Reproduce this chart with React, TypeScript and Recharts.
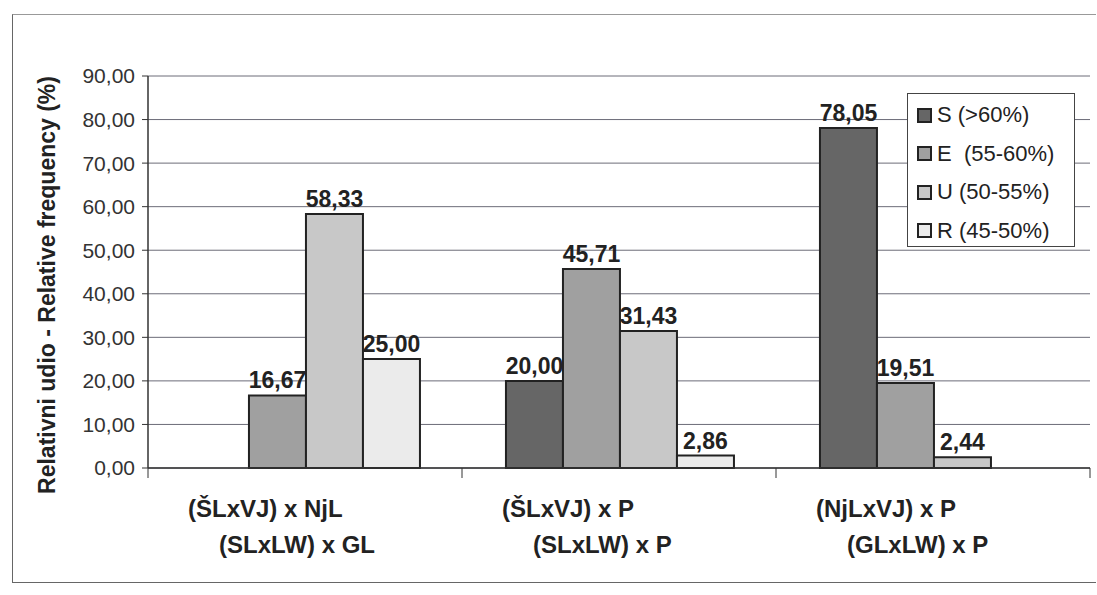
import { BarChart, Bar, XAxis, YAxis, CartesianGrid, LabelList } from "recharts";

const line1Labels = ["(ŠLxVJ) x NjL", "(ŠLxVJ) x P", "(NjLxVJ) x P"];
const line2Labels = ["(SLxLW) x GL", "(SLxLW) x P", "(GLxLW) x P"];

const sValues = [null, 20.0, 78.05];
const eValues = [16.67, 45.71, 19.51];
const uValues = [58.33, 31.43, 2.44];
const rValues = [25.0, 2.86, null];

const yTicks = [0, 10, 20, 30, 40, 50, 60, 70, 80, 90];

const seriesNames = ["S (>60%)", "E  (55-60%)", "U (50-55%)", "R (45-50%)"];
const seriesKeys = ["s", "e", "u", "r"];
const seriesColors = ["#666666", "#a0a0a0", "#c8c8c8", "#ebebeb"];

const data = line1Labels.map((l1, i) => ({
    name: l1,
    line2: line2Labels[i],
    s: sValues[i],
    e: eValues[i],
    u: uValues[i],
    r: rValues[i],
}));

const fmt = (v: number) => v.toFixed(2).replace(".", ",");

const FONT = "'Liberation Sans', Arial, sans-serif";

const CategoryTick = (props: any) => {
    const { x, y, index } = props;
    const half = 157;
    return (
        <g>
            <line x1={x - half} y1={y - 8} x2={x - half} y2={y + 2} stroke="#333" />
            {index === 2 && (
                <line x1={x + half} y1={y - 8} x2={x + half} y2={y + 2} stroke="#333" />
            )}
            <text
                x={x - 117}
                y={y + 41}
                fontFamily={FONT}
                fontWeight="bold"
                fontSize={24}
                fill="#222"
            >
                {line1Labels[index]}
            </text>
            <text
                x={x - 86}
                y={y + 77}
                fontFamily={FONT}
                fontWeight="bold"
                fontSize={24}
                fill="#222"
            >
                {line2Labels[index]}
            </text>
        </g>
    );
};

const ValueLabel = (props: any) => {
    const { x, y, width, value } = props;
    if (value === null || value === undefined) return null;
    return (
        <text
            x={x + width / 2}
            y={y - 7}
            textAnchor="middle"
            fontFamily={FONT}
            fontWeight="bold"
            fontSize={23}
            fill="#222"
        >
            {fmt(value)}
        </text>
    );
};

const YLabel = () => (
    <text
        x={47}
        y={285}
        dy={8}
        transform="rotate(-90 47 285)"
        textAnchor="middle"
        fontFamily={FONT}
        fontWeight="bold"
        fontSize={23}
        fill="#222"
    >
        Relativni udio - Relative frequency (%)
    </text>
);

const ChartLegend = () => (
    <div
        style={{
            position: "absolute",
            left: 907,
            top: 93,
            width: 168,
            height: 154,
            border: "1px solid #444",
            background: "#fff",
            fontFamily: FONT,
            fontSize: 22,
            color: "#222",
            boxSizing: "border-box",
            paddingTop: 2,
        }}
    >
        {seriesNames.map((n, i) => (
            <div
                key={n}
                style={{ display: "flex", alignItems: "center", height: 38.5, paddingLeft: 9 }}
            >
                <span
                    style={{
                        display: "inline-block",
                        width: 11,
                        height: 11,
                        border: "2px solid #222",
                        background: seriesColors[i],
                        marginRight: 5,
                    }}
                />
                <span style={{ whiteSpace: "pre" }}>{n}</span>
            </div>
        ))}
    </div>
);

export default function App() {
    return (
        <div
            style={{
                position: "absolute",
                left: 0,
                top: 0,
                width: 1097,
                height: 595,
                background: "#fff",
            }}
        >
            <div
                style={{
                    position: "absolute",
                    left: 12,
                    top: 14,
                    width: 1083,
                    height: 567,
                    borderLeft: "1px solid #666",
                    borderBottom: "1px solid #666",
                    borderTop: "1px solid #999",
                }}
            />
            <BarChart
                width={1097}
                height={595}
                data={data}
                margin={{ top: 76, right: 7, left: 0, bottom: 0 }}
                barCategoryGap="14%"
                barGap={0}
                style={{ position: "absolute", left: 0, top: 0 }}
            >
                <CartesianGrid vertical={false} stroke="#6c6c78" strokeWidth={1} />
                <XAxis
                    dataKey="name"
                    height={127}
                    tickLine={false}
                    axisLine={{ stroke: "#333", strokeWidth: 1.5 }}
                    tick={<CategoryTick />}
                    interval={0}
                />
                <YAxis
                    width={148}
                    domain={[0, 90]}
                    ticks={yTicks}
                    tickFormatter={fmt}
                    tickSize={6}
                    tickMargin={7}
                    tickLine={{ stroke: "#333" }}
                    axisLine={{ stroke: "#333", strokeWidth: 1.5 }}
                    tick={{ fontFamily: FONT, fontSize: 21, fill: "#333" }}
                    label={<YLabel />}
                />
                {seriesKeys.map((k, i) => (
                    <Bar
                        key={k}
                        dataKey={k}
                        name={seriesNames[i]}
                        fill={seriesColors[i]}
                        stroke="#222"
                        strokeWidth={2}
                        isAnimationActive={false}
                    >
                        <LabelList dataKey={k} content={<ValueLabel />} />
                    </Bar>
                ))}
            </BarChart>
            <ChartLegend />
        </div>
    );
}
